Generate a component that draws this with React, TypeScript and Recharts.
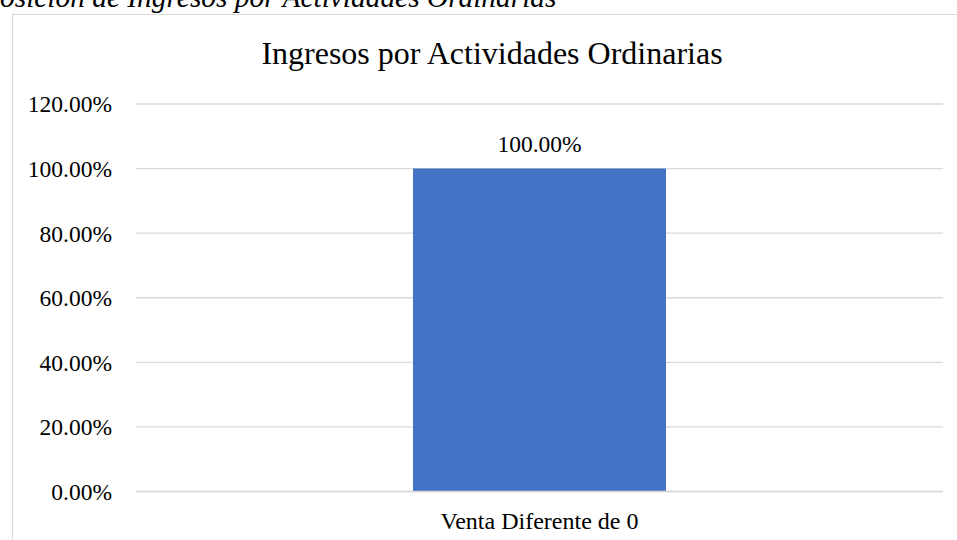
import React from 'react';
import { BarChart, Bar, XAxis, YAxis, CartesianGrid, LabelList } from 'recharts';

const categories = ['Venta Diferente de 0'];
const shares = [1.0];
const yTicks = [0, 0.2, 0.4, 0.6, 0.8, 1.0, 1.2];

const data = categories.map((name, i) => ({ name, value: shares[i] }));

const FONT = '"Liberation Serif", "Times New Roman", serif';
const pct = (v: number) => `${(v * 100).toFixed(2)}%`;

export default function App() {
  return (
    <div
      style={{
        position: 'fixed',
        left: 0,
        top: 0,
        width: 957,
        height: 540,
        overflow: 'hidden',
        background: '#fff',
        fontFamily: FONT,
      }}
    >
      {/* caption, cut off by the top edge like in the source */}
      <div
        style={{
          position: 'absolute',
          left: 0,
          top: -17,
          fontSize: 29.4,
          lineHeight: 1,
          fontStyle: 'italic',
          whiteSpace: 'nowrap',
          color: '#000',
        }}
      >
        osición de Ingresos por Actividades Ordinarias
      </div>

      {/* chart frame */}
      <div
        style={{
          position: 'absolute',
          left: 12,
          top: 14,
          width: 980,
          height: 560,
          border: '1px solid #d9d9d9',
        }}
      />

      <div
        style={{
          position: 'absolute',
          left: 12,
          width: 960,
          top: 37,
          textAlign: 'center',
          fontSize: 32,
          lineHeight: 1,
          color: '#000',
          whiteSpace: 'nowrap',
        }}
      >
        Ingresos por Actividades Ordinarias
      </div>

      <div style={{ position: 'absolute', left: 0, top: 0 }}>
        <BarChart
          width={957}
          height={540}
          data={data}
          margin={{ top: 104, right: 14, bottom: 8.5, left: 0 }}
        >
          <CartesianGrid horizontal vertical={false} stroke="#d9d9d9" strokeWidth={1.3} />
          <XAxis
            dataKey="name"
            height={40}
            axisLine={{ stroke: '#d9d9d9', strokeWidth: 1.3 }}
            tickLine={false}
            tickSize={0}
            tickMargin={20}
            tick={{ fill: '#000', fontSize: 24, fontFamily: FONT }}
          />
          <YAxis
            width={136}
            domain={[0, 1.2]}
            ticks={yTicks}
            tickFormatter={pct}
            axisLine={false}
            tickLine={false}
            tickSize={0}
            tickMargin={24}
            tick={{ fill: '#000', fontSize: 23.5, fontFamily: FONT }}
          />
          <Bar dataKey="value" fill="#4472C4" barSize={253} isAnimationActive={false}>
            <LabelList
              dataKey="value"
              position="top"
              offset={17}
              formatter={(v: number) => pct(v)}
              style={{ fill: '#000', fontSize: 23.5, fontFamily: FONT }}
            />
          </Bar>
        </BarChart>
      </div>
    </div>
  );
}
